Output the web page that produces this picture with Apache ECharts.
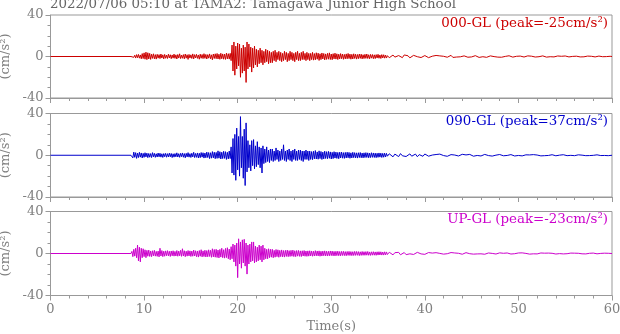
<!DOCTYPE html>
<html><head><meta charset="utf-8">
<script src="https://cdn.jsdelivr.net/npm/echarts/dist/echarts.min.js"></script>
<style>html,body{margin:0;padding:0;background:#fff}#c{width:620px;height:334px}</style>
</head><body><div id="c"></div>
<script>
// ---- data ----
const chartTitle = '2022/07/06 05:10 at TAMA2: Tamagawa Junior High School';
const channelNames = ['000-GL', '090-GL', 'UP-GL'];
const channelPeaks = [-25, 37, -23];
const xTicks = [0, 10, 20, 30, 40, 50, 60];
const yTicks = [-40, 0, 40];
const onsetTime = 8.6;      // first sample of the early segment (s)
const earlyEnd = 35.9;      // last sample of the early segment (every 0.1 s)
const lateStart = 36;       // first sample of the late segment (s)
const lateEnd = 60;         // last sample of the late segment (every 0.2 s)

// 000-GL, 8.6 s .. 35.9 s
const acc000Early = [
  0, 0, 0.5, -0.8, 1.2, -1.5, 1.8, -1.2, 2, -1.6,
  1.5, -2.2, 2.8, -2, 3.5, -2.6, 4.2, -3, 3.6, -2.4,
  3, -2.8, 2.2, -1.8, 2.6, -2.2, 1.8, -2.5, 2.1, -1.6,
  1.8, -2, 2.4, -1.5, 1.6, -2.3, 2, -1.7, 1.4, -1.9,
  2.2, -1.4, 1.7, -2.1, 1.5, -1.6, 2.3, -1.8, 1.6, -2.4,
  1.9, -1.5, 2.6, -2, 1.4, -1.7, 1.8, -2.2, 2.4, -1.6,
  1.7, -2.8, 2, -1.5, 1.6, -1.9, 2.5, -2.3, 1.8, -1.4,
  2.1, -1.8, 1.5, -2.6, 2.2, -1.7, 1.9, -2, 2.7, -1.8,
  2, -2.4, 1.8, -1.6, 2.5, -2.2, 1.6, -3.2, 2.4, -1.9,
  2.6, -2.1, 2.9, -2.4, 2.2, -2.7, 3.1, -2.2, 2.5, -2.6,
  2.3, -2.8, 3.2, -2.3, 2.7, -2.5, 3, -4, 11, -14,
  14, -18, 10, -12, 13, -9, 12, -20, 8, -16,
  11, -14, 9, -25, 14, -12, 12, -10, 9, -15,
  8, -11, 10, -8, 7, -10, 6, -7, 8, -6,
  6, -8, 5, -6, 7, -5, 6, -7, 5, -6,
  4, -6, 5, -4, 6, -5, 4, -3, 5, -4,
  4, -5, 3, -4, 5, -3, 4, -5, 3, -4,
  5, -3, 4, -4, 3, -5, 4, -3, 5, -4,
  3, -4, 4, -3, 5, -3, 3, -4, 4, -3,
  3, -4, 3, -3, 4, -3.5, 2.8, -3.2, 3.6, -2.6,
  3.2, -3.8, 2.6, -3, 3.4, -2.4, 2.9, -3.3, 2.5, -2.8,
  3, -2.6, 3.5, -2.9, 2.4, -3.1, 2.7, -2.3, 3.2, -2.5,
  2.6, -2.9, 2.2, -2.4, 2.8, -2.1, 2.4, -2.7, 2, -2.3,
  2.5, -2.2, 2.9, -2, 2.3, -2.6, 2.1, -2.4, 2.6, -1.9,
  2.2, -2.5, 1.9, -2.1, 2.4, -1.8, 2.2, -2.3, 1.7, -2,
  2.1, -1.8, 2.4, -1.9, 1.7, -2.2, 2, -1.6, 1.9, -2.1,
  1.6, -2, 1.8, -1.5, 2.1, -1.7, 1.5, -1.9, 1.8, -1.4,
  1.7, -1.6, 1.4, -1.5
];
// 000-GL, 36 s .. 60 s
const acc000Late = [
  0.8, -1.2, 0.3, 1.4, -0.6, -1.3, 0.9, 0.2, -1.1, 1.5,
  -0.4, 0.7, -1.3, 0.5, 1.1, -0.8, -0.2, 1.2, -1, 0.4,
  0.9, -0.6, -1.1, 0.8, 0.3, -0.9, 1, -0.3, 0.6, -1,
  0.2, 0.9, -0.7, -0.2, 1.1, -0.9, 0.4, -0.5, 0.8, -0.3,
  -0.8, 0.6, 0.1, -0.7, 0.9, -0.4, -0.6, 0.8, 0.2, -0.9,
  0.5, -0.2, 0.7, -0.8, 0.3, 0.6, -0.5, -0.1, 0.8, -0.6,
  0.2, -0.7, 0.6, 0.1, -0.5, 0.7, -0.3, -0.6, 0.5, 0.2,
  -0.6, 0.4, 0.6, -0.5, -0.1, 0.6, -0.6, 0.3, 0.1, -0.5,
  0.5, -0.2, -0.4, 0.6, 0.1, -0.6, 0.4, -0.2, 0.5, -0.4,
  0.1, 0.5, -0.5, 0.2, -0.3, 0.5, -0.1, -0.4, 0.4, 0.1,
  -0.5, 0.3, 0.2, -0.4, 0.5, -0.3, -0.1, 0.4, -0.4, 0.2,
  0.3, -0.4, 0.1, 0.4, -0.3, -0.2, 0.4, -0.1, -0.3, 0.2,
  0
];

// 090-GL, 8.6 s .. 35.9 s
const acc090Early = [
  0, 1.5, -2.5, 3, -2, 2.5, -3, 2, -2.2, 2.8,
  -1.8, 2.2, -2.6, 1.8, -2, 2.4, -1.6, 2, -2.3, 1.7,
  -1.9, 1.6, -2.2, 2.5, -1.5, 1.8, -2, 1.4, -1.7, 2.1,
  -1.5, 1.9, -1.8, 1.4, -2.1, 1.6, -1.4, 1.8, -1.9, 1.5,
  -1.6, 2, -1.5, 1.7, -2.2, 1.4, -1.8, 1.6, -1.5, 2.3,
  -1.7, 1.5, -2, 1.8, -1.4, 2.2, -1.9, 1.6, -2.4, 1.8,
  -1.6, 2.5, -1.8, 1.5, -2.1, 1.9, -1.6, 2.8, -2.2, 1.7,
  -2, 2.2, -2.6, 1.9, -2.3, 2.6, -1.8, 2.4, -2.7, 2.1,
  -2.4, 3, -2.2, 2.6, -3.2, 2.4, -2.8, 3.5, -2.5, 2.9,
  -3.3, 2.7, -3, 4.2, -2.8, 3.4, -3.6, 2.9, -3.2, 3.8,
  -3, 3.4, -4, 2.8, -3.5, 4, -3.2, 8, -17, 16,
  -19, 20, -24, 26, -14, 18, -20, 37, -12, 18,
  -22, 25, -29, 31, -16, 14, -12, 10, -15, 14,
  -10, 15, -13, 9, -11, 13, -9, 8, -12, 7,
  -17, 9, -8, 6, -7, 8, -6, 5, -7, 6,
  -5, 6, -6, 4, -5, 7, -4, 5, -6, 4,
  -5, 6, -4, 10, -5, 4, -6, 5, -4, 6,
  -5, 4, -6, 5, -4, 6, -5, 4, -5, 5,
  -4, 5, -5, 4, -6, 4, -4, 5, -4, 4,
  -5, 4, -4, 3.5, -4.2, 3.8, -3.4, 4.5, -3.6, 3.2,
  -3.8, 4.2, -3.2, 3.6, -4, 3, -3.5, 3.9, -3.1, 3.4,
  -3.3, 3.7, -2.9, 3.2, -3.6, 2.8, -3.2, 3.4, -2.7, 3,
  -3, 2.7, -3.3, 2.9, -2.6, 3.1, -2.8, 2.5, -3, 2.7,
  -2.6, 2.9, -2.4, 2.7, -2.9, 2.3, -2.6, 2.8, -2.3, 2.5,
  -2.5, 2.3, -2.7, 2.4, -2.2, 2.6, -2.4, 2.1, -2.5, 2.3,
  -2.2, 2.5, -2.1, 2.3, -2.4, 2, -2.2, 2.4, -2, 2.2,
  -2.1, 2, -2.3, 1.9, -2, 2.2, -1.8, 2, -2.1, 1.8,
  -1.9, 2, -1.7, 1.8
];
// 090-GL, 36 s .. 60 s
const acc090Late = [
  -0.9, 1.4, -0.4, -1.5, 1.1, 0.3, -1.3, 1.6, -0.5, 0.8,
  -1.2, 0.4, 1.3, -0.9, -0.2, 1.1, -1.4, 0.6, 0.2, -1,
  1.2, -0.5, -0.9, 1, 0.2, -1.1, 0.7, -0.3, 1.1, -0.8,
  -0.3, 1, -1, 0.4, 0.6, -0.9, 0.2, 0.9, -0.7, -0.2,
  0.9, -0.8, 0.3, -0.5, 0.8, 0.1, -0.9, 0.6, -0.2, 0.7,
  -0.7, 0.2, 0.8, -0.6, -0.3, 0.7, -0.8, 0.4, 0.1, -0.6,
  0.7, -0.3, -0.5, 0.8, -0.2, -0.6, 0.6, 0.1, -0.7, 0.5,
  -0.2, 0.6, -0.6, 0.2, 0.4, -0.7, 0.3, -0.1, 0.6, -0.5,
  0.2, 0.5, -0.6, 0.1, -0.4, 0.6, -0.2, -0.5, 0.5, 0.2,
  -0.5, 0.4, 0.1, -0.5, 0.5, -0.2, -0.4, 0.5, -0.1, 0.3,
  -0.4, 0.2, 0.4, -0.5, 0.1, 0.3, -0.4, 0.2, -0.3, 0.4,
  -0.1, -0.4, 0.4, 0.1, -0.3, 0.3, -0.2, 0.3, -0.4, 0.1,
  0
];

// UP-GL, 8.6 s .. 35.9 s
const accUpEarly = [
  0, 2, -3, 4, -2.5, 5, -4, 8, -7, 6,
  -8, 5, -4, 4.5, -3, 3.5, -4, 3, -2.6, 3.2,
  -2.8, 2.4, -3, 2.6, -2.2, 3, -2.5, 2, -2.7, 2.3,
  -3.2, 5, -2.4, 2.8, -3, 2.2, -2.6, 2.5, -2.1, 2.7,
  -2.3, 2.1, -2.8, 2.4, -2.2, 2.6, -2.5, 2, -2.4, 2.8,
  -2.6, 2.3, -2.2, 3, -2.7, 4.5, -2.4, 2.6, -3, 2.2,
  -2.5, 2.8, -2.3, 2.5, -2.8, 2.3, -2.6, 3.2, -2.4, 2.6,
  -3, 2.4, -3.4, 2.8, -2.6, 3.6, -3.2, 2.5, -2.9, 3.1,
  -3.3, 2.8, -3.1, 3.5, -2.8, 3, -3.6, 4.5, -3.2, 3.8,
  -3.5, 4, -3.8, 3.3, -4.2, 3.9, -3.4, 5, -4, 3.6,
  -4.4, 4.8, -3.9, 5.5, -5, 4.2, -6, 6.5, -5, 9,
  -8, 8, -12, 10, -23, 14, -10, 11, -14, 13,
  -9, 13.5, -12, 10, -19.6, 8, -10, 9, -8, 11,
  -7, 11, -9, 7, -8, 6, -7, 8, -6, 7,
  -8, 8, -6, 5, -5, 4, -5, 4.5, -4, 4,
  -3.5, 4, -4, 3, -3.5, 3.8, -3, 3.5, -3.6, 3,
  -3, 3.4, -3.2, 2.8, -3.4, 3, -2.8, 3.2, -3, 2.7,
  -2.8, 3, -2.6, 3.2, -2.9, 2.6, -3, 2.8, -2.5, 2.9,
  -2.7, 2.5, -2.9, 2.6, -2.4, 2.8, -2.6, 2.4, -2.7, 2.5,
  -2.5, 2.6, -2.3, 2.4, -2.6, 2.2, -2.4, 2.7, -2.2, 2.4,
  -2.3, 2.5, -2.6, 2.1, -2.4, 2.3, -2.1, 2.5, -2.3, 2.2,
  -2.4, 2.1, -2.2, 2.4, -2, 2.3, -2.2, 2, -2.3, 2.1,
  -2, 2.2, -2.1, 1.9, -2.2, 2, -1.9, 2.1, -2, 1.8,
  -2.1, 1.9, -1.8, 2, -1.9, 1.8, -2, 1.7, -1.9, 2,
  -1.8, 1.9, -1.7, 1.8, -2, 1.6, -1.8, 1.9, -1.7, 1.7,
  -1.7, 1.8, -1.6, 1.9, -1.7, 1.5, -1.8, 1.6, -1.6, 1.7,
  -1.6, 1.5, -1.7, 1.6, -1.5, 1.7, -1.4, 1.6, -1.5, 1.4,
  -1.5, 1.6, -1.4, 1.5
];
// UP-GL, 36 s .. 60 s
const accUpLate = [
  -1, 1.2, 0.3, -1.3, 0.8, -0.4, 1.1, -1.2, 0.2, 0.9,
  -1.1, 0.5, -0.3, 1, -0.9, 0.2, 1.1, -0.7, -0.4, 0.9,
  -0.8, 0.3, 0.9, -1, 0.4, -0.2, 0.8, -0.9, 0.1, 0.7,
  -0.6, 0.8, -0.2, -0.7, 0.9, -0.3, 0.5, -0.8, 0.2, 0.6,
  -0.7, 0.1, 0.8, -0.5, -0.2, 0.7, -0.6, 0.3, -0.4, 0.7,
  -0.3, 0.6, -0.7, 0.2, 0.5, -0.6, 0.1, 0.6, -0.5, -0.1,
  0.6, -0.5, 0.2, -0.6, 0.5, 0.1, -0.5, 0.6, -0.2, -0.4,
  0.5, -0.3, 0.6, -0.5, 0.1, 0.4, -0.6, 0.2, -0.3, 0.5,
  -0.4, 0.1, 0.5, -0.5, 0.3, -0.2, 0.4, -0.5, 0.2, 0.3,
  -0.5, 0.4, -0.1, 0.3, -0.4, 0.5, -0.2, -0.3, 0.4, -0.1,
  0.3, -0.4, 0.2, 0.4, -0.3, 0.1, -0.4, 0.3, 0.2, -0.3,
  0.4, -0.2, -0.3, 0.3, 0.1, -0.4, 0.3, -0.1, 0.2, -0.3,
  0
];

// ---- build ----
function buildTrace(early, late) {
  const out = [[0, 0]];
  const dtE = (earlyEnd - onsetTime) / (early.length - 1);
  early.forEach((v, i) => out.push([onsetTime + i * dtE, v]));
  const dtL = (lateEnd - lateStart) / (late.length - 1);
  late.forEach((v, i) => out.push([lateStart + i * dtL, v]));
  return out;
}
const traces = [
  buildTrace(acc000Early, acc000Late),
  buildTrace(acc090Early, acc090Late),
  buildTrace(accUpEarly, accUpLate)
];

const FONT = '"DejaVu Serif", "Liberation Serif", serif';
const FS = 13;
const FS_T = 13.4;
const colors = ['#cc0000', '#0000cc', '#cc00cc'];
const gridTops = [15, 113.5, 211.5];
const gridHeights = [83, 83.5, 84];
const legendTops = [17, 115.5, 213.5];
const AX = '#999';
const LBL = '#808080';

const grids = [], xAxes = [], yAxes = [], series = [];
const titles = [{
  text: chartTitle, left: 50, top: -2, padding: 0,
  textStyle: { fontFamily: FONT, fontSize: FS_T, fontWeight: 'normal', color: '#666' }
}];
for (let i = 0; i < 3; i++) {
  grids.push({ left: 50.5, right: 8, top: gridTops[i], height: gridHeights[i],
    containLabel: false, outerBoundsMode: 'none',
    show: true, borderColor: AX, borderWidth: 1, backgroundColor: 'transparent' });
  xAxes.push({
    gridIndex: i, type: 'value', min: xTicks[0], max: xTicks[xTicks.length - 1],
    interval: xTicks[1] - xTicks[0],
    axisLine: { show: true, onZero: false, lineStyle: { color: AX, width: 1 } },
    axisTick: { show: true, inside: false, length: 5, lineStyle: { color: AX } },
    minorTick: { show: true, splitNumber: 5, length: 3, lineStyle: { color: AX } },
    splitLine: { show: false }, minorSplitLine: { show: false },
    axisLabel: { show: i === 2, margin: 8, fontFamily: FONT, fontSize: FS, color: LBL },
    name: i === 2 ? 'Time(s)' : '', nameLocation: 'middle', nameGap: 25,
    nameTextStyle: { fontFamily: FONT, fontSize: FS, color: LBL }
  });
  yAxes.push({
    gridIndex: i, type: 'value', min: yTicks[0], max: yTicks[yTicks.length - 1],
    interval: yTicks[1] - yTicks[0],
    axisLine: { show: true, onZero: false, lineStyle: { color: AX, width: 1 } },
    axisTick: { show: true, inside: false, length: 5, lineStyle: { color: AX } },
    minorTick: { show: true, splitNumber: 4, length: 3, lineStyle: { color: AX } },
    splitLine: { show: false }, minorSplitLine: { show: false },
    axisLabel: { margin: 7, fontFamily: FONT, fontSize: FS, color: LBL },
    name: '(cm/s²)', nameLocation: 'middle', nameGap: 33, nameRotate: 90,
    nameTextStyle: { fontFamily: FONT, fontSize: FS, color: LBL }
  });
  series.push({
    type: 'line', xAxisIndex: i, yAxisIndex: i, data: traces[i],
    showSymbol: false, symbol: 'none', sampling: null, silent: true,
    lineStyle: { color: colors[i], width: 1 }, itemStyle: { color: colors[i] }
  });
  titles.push({
    text: channelNames[i] + ' (peak=' + channelPeaks[i] + 'cm/s²)',
    right: 12, top: legendTops[i], padding: 0,
    textStyle: { fontFamily: FONT, fontSize: FS_T, fontWeight: 'normal', color: colors[i] }
  });
}

const chart = echarts.init(document.getElementById('c'), null, { renderer: 'canvas' });
chart.setOption({
  animation: false, backgroundColor: '#fff',
  title: titles, grid: grids, xAxis: xAxes, yAxis: yAxes, series: series
});
</script></body></html>
